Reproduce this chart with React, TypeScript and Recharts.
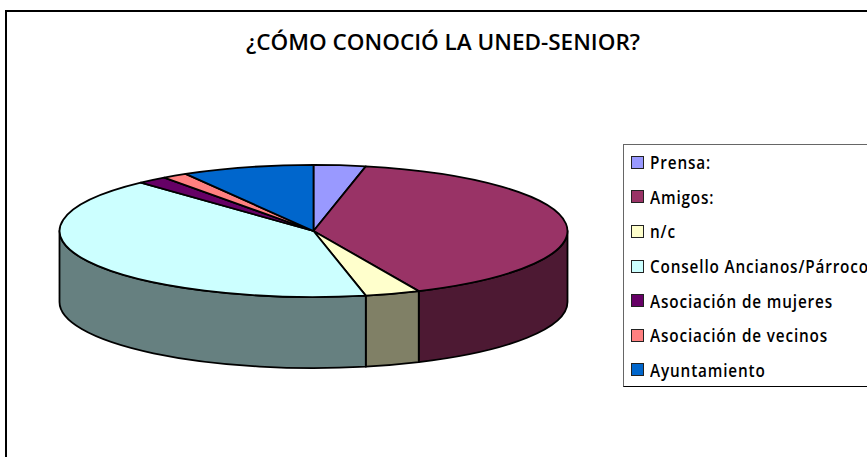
import { PieChart, Pie, Cell, Legend } from "recharts";

const CATEGORIES = [
  "Prensa:",
  "Amigos:",
  "n/c",
  "Consello Ancianos/Párroco",
  "Asociación de mujeres",
  "Asociación de vecinos",
  "Ayuntamiento",
];
const VALUES = [3.3, 39.9, 3.5, 41.4, 1.9, 1.6, 8.4];
const TOP_COLORS = ["#9999FF", "#993366", "#FFFFCC", "#CCFFFF", "#660066", "#FF8080", "#0066CC"];
const SIDE_COLORS = ["#4D4D80", "#4D1933", "#808066", "#668080", "#330033", "#804040", "#003366"];

const WIDTH = 867;
const HEIGHT = 457;
const SQUASH = 0.26; // flattening of the disc
const DEPTH = 71;
const FONT = "'Open Sans', sans-serif";

const chartData = CATEGORIES.map((name, i) => ({
  name,
  value: VALUES[i],
  color: TOP_COLORS[i],
  side: SIDE_COLORS[i],
}));

// draws one slice of the flattened disc from the angles the Pie computed
function DiscSlice(props: any) {
  const { cx, cy, outerRadius, startAngle, endAngle, payload, fill } = props;
  const rx = outerRadius;
  const ry = outerRadius * SQUASH;
  const t0 = 90 - startAngle;
  const t1 = 90 - endAngle;
  const pt = (t: number, dy = 0) => {
    const a = (t * Math.PI) / 180;
    return `${cx + rx * Math.sin(a)} ${cy - ry * Math.cos(a) + dy}`;
  };
  const large = t1 - t0 > 180 ? 1 : 0;
  const top = `M${cx} ${cy}L${pt(t0)}A${rx} ${ry} 0 ${large} 1 ${pt(t1)}Z`;

  // the wall only shows on the front half of the disc
  const w0 = Math.max(t0, 90);
  const w1 = Math.min(t1, 270);
  const wall =
    w1 > w0
      ? `M${pt(w0)}A${rx} ${ry} 0 0 1 ${pt(w1)}L${pt(w1, DEPTH)}A${rx} ${ry} 0 0 0 ${pt(w0, DEPTH)}Z`
      : null;

  return (
    <g>
      {wall && <path d={wall} fill={payload.side} stroke="#000" strokeWidth={1.8} strokeLinejoin="round" />}
      <path d={top} fill={fill} stroke="#000" strokeWidth={1.8} strokeLinejoin="round" />
    </g>
  );
}

function LegendBox({ payload }: any) {
  return (
    <div
      style={{
        boxSizing: "border-box",
        width: 300,
        height: 243,
        border: "1px solid #000",
        borderTopColor: "#666",
        borderLeftColor: "#666",
        background: "#fff",
      }}
    >
      {(payload ?? []).map((item: any) => (
        <div
          key={item.value}
          style={{
            display: "flex",
            alignItems: "center",
            height: 34.6,
            fontFamily: FONT,
            fontSize: 18,
            fontWeight: 600,
            letterSpacing: 1,
            color: "#000",
            whiteSpace: "nowrap",
          }}
        >
          <span
            style={{
              boxSizing: "border-box",
              flex: "none",
              width: 13,
              height: 13,
              marginLeft: 7,
              marginRight: 6,
              border: "1.5px solid #222",
              background: item.color,
            }}
          />
          <span style={{ display: "inline-block", transform: "scaleX(0.85)", transformOrigin: "left center" }}>
            {item.value}
          </span>
        </div>
      ))}
    </div>
  );
}

export default function App() {
  return (
    <div
      style={{
        position: "absolute",
        left: 0,
        top: 0,
        width: WIDTH,
        height: HEIGHT,
        overflow: "hidden",
        background: "#fff",
      }}
    >
      <div
        style={{
          position: "absolute",
          left: 5,
          top: 10,
          width: WIDTH + 20,
          height: HEIGHT + 20,
          border: "2px solid #000",
        }}
      />
      <PieChart
        width={WIDTH}
        height={HEIGHT}
        margin={{ top: 0, right: 0, bottom: 0, left: 0 }}
        style={{ position: "absolute", left: 0, top: 0 }}
      >
        <text
          x={246}
          y={50}
          fontFamily={FONT}
          fontSize={22}
          fontWeight={600}
          textLength={394}
          lengthAdjust="spacingAndGlyphs"
          fill="#000"
        >
          ¿CÓMO CONOCIÓ LA UNED-SENIOR?
        </text>
        <Pie
          data={chartData}
          dataKey="value"
          nameKey="name"
          cx={313.5}
          cy={231}
          innerRadius={0}
          outerRadius={254}
          startAngle={90}
          endAngle={-270}
          stroke="#000"
          isAnimationActive={false}
          shape={DiscSlice}
          activeShape={DiscSlice}
          inactiveShape={DiscSlice}
        >
          {chartData.map((entry) => (
            <Cell key={entry.name} fill={entry.color} />
          ))}
        </Pie>
        <Legend
          layout="vertical"
          align="right"
          verticalAlign="top"
          itemSorter={null}
          content={<LegendBox />}
          wrapperStyle={{ position: "absolute", left: 623, top: 144, width: 300, height: 243 }}
        />
      </PieChart>
    </div>
  );
}
